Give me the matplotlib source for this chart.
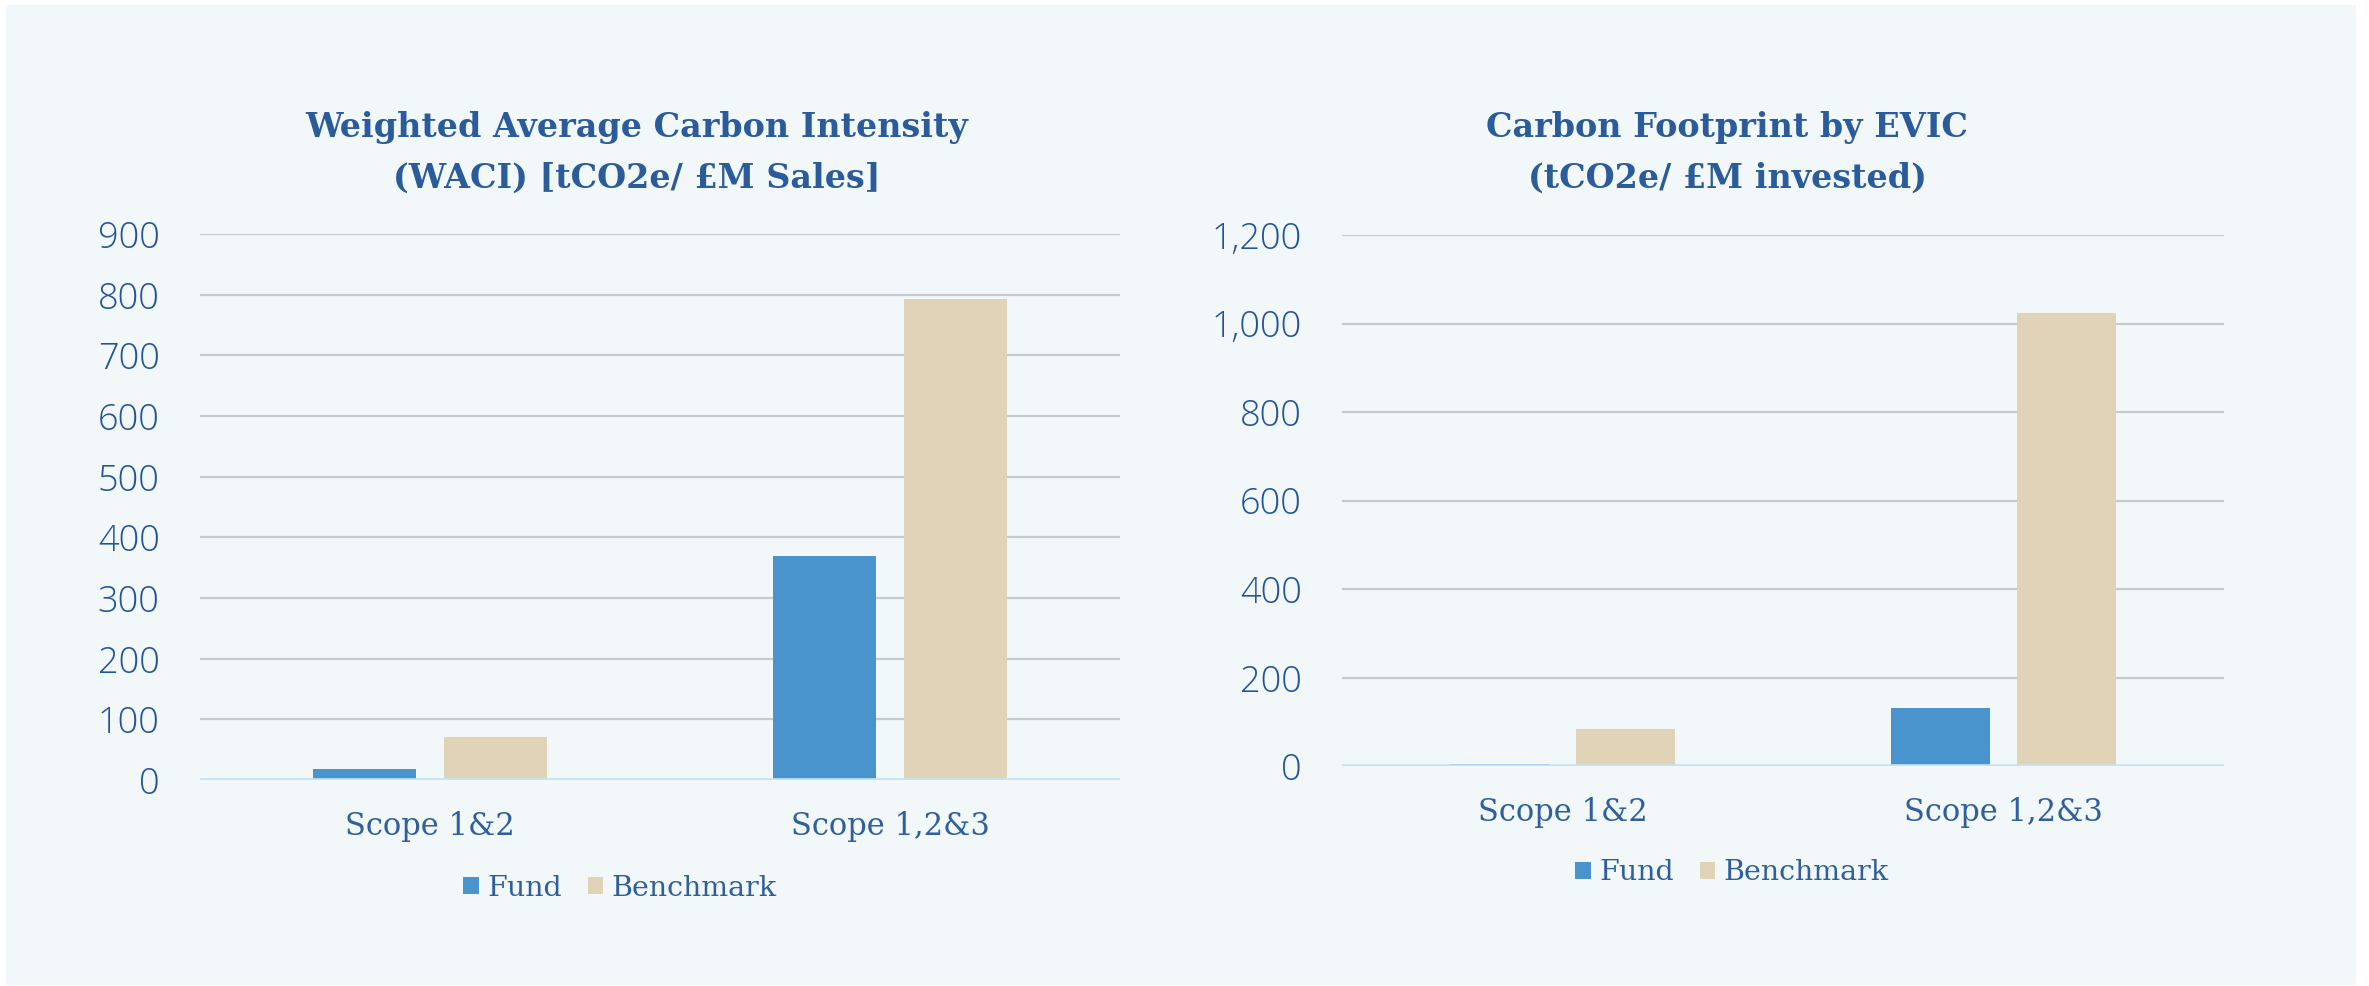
import matplotlib
matplotlib.use("Agg")
import matplotlib.pyplot as plt
from matplotlib.patches import Rectangle
from matplotlib.ticker import FuncFormatter

categories = ["Scope 1&2", "Scope 1,2&3"]
series_names = ["Fund", "Benchmark"]

waci_fund = [18, 369]
waci_bench = [71, 793]

evic_fund = [5, 132]
evic_bench = [84, 1023]

title_left = ["Weighted Average Carbon Intensity", "(WACI) [tCO2e/ £M Sales]"]
title_right = ["Carbon Footprint by EVIC", "(tCO2e/ £M invested)"]

FUND_C = "#4A94CE"
BENCH_C = "#E0D3B8"
TEXT_C = "#2F5F9C"
TICK_C = "#23549A"
TITLE_C = "#2A5B9A"
GRID_C = "#C6CACE"
ZERO_C = "#C3E4F7"
PANEL_C = "#F2F7FA"

W, H = 2369, 986
fig = plt.figure(figsize=(W / 100, H / 100), dpi=100)
fig.patch.set_facecolor("white")
fig.patches.append(Rectangle((6 / W, 1 / H), 2350 / W, 980 / H, transform=fig.transFigure,
                             facecolor=PANEL_C, edgecolor="none", zorder=-10))


def draw(rect, fund, bench, ymax, step, fmt, title, title_x, leg_x, leg_y):
    ax = fig.add_axes(rect)
    ax.set_facecolor("none")
    x = range(len(categories))
    bw = 0.224
    off = 0.142
    b1 = ax.bar([i - off for i in x], fund, bw, color=FUND_C, zorder=3)
    b2 = ax.bar([i + off for i in x], bench, bw, color=BENCH_C, zorder=3)
    ax.set_xlim(-0.5, 1.5)
    ax.set_ylim(0, ymax)
    ax.set_yticks(range(0, ymax + 1, step))
    ax.yaxis.set_major_formatter(FuncFormatter(fmt))
    ax.yaxis.grid(True, color=GRID_C, lw=1.6, zorder=0)
    ax.axhline(0, color=ZERO_C, lw=2.6, zorder=4)
    for s in ax.spines.values():
        s.set_visible(False)
    ax.tick_params(axis="y", length=0, pad=29, labelsize=26, labelcolor=TICK_C)
    ax.tick_params(axis="x", length=0, pad=22, labelsize=22, labelcolor=TEXT_C)
    for t in ax.get_yticklabels():
        t.set_fontfamily("Open Sans")
        t.set_fontweight("light")
    ax.set_xticks(list(x))
    ax.set_xticklabels(categories, fontfamily="DejaVu Serif")
    for line, ypx in zip(title, [127, 178]):
        fig.text(title_x, 1 - ypx / H, line, ha="center", va="center", fontsize=24,
                 fontweight="bold", fontfamily="DejaVu Serif", color=TITLE_C)
    fig.legend([b1, b2], series_names, loc="center", bbox_to_anchor=(leg_x, leg_y),
               ncol=2, frameon=False, handlelength=0.55, handleheight=0.55,
               handletextpad=0.3, columnspacing=0.9, labelcolor=TEXT_C,
               prop={"family": "DejaVu Serif", "size": 20.5})
    return ax


draw([200 / W, 206 / H, 920 / W, 546 / H], waci_fund, waci_bench, 900, 100,
     lambda v, p: f"{int(v)}", title_left, 637 / W, 620 / W, 1 - 888 / H)
draw([1342 / W, 220 / H, 882 / W, 531 / H], evic_fund, evic_bench, 1200, 200,
     lambda v, p: f"{int(v):,}", title_right, 1727 / W, 1732 / W, 1 - 873 / H)

fig.savefig("out.png", dpi=100, facecolor=fig.get_facecolor())
